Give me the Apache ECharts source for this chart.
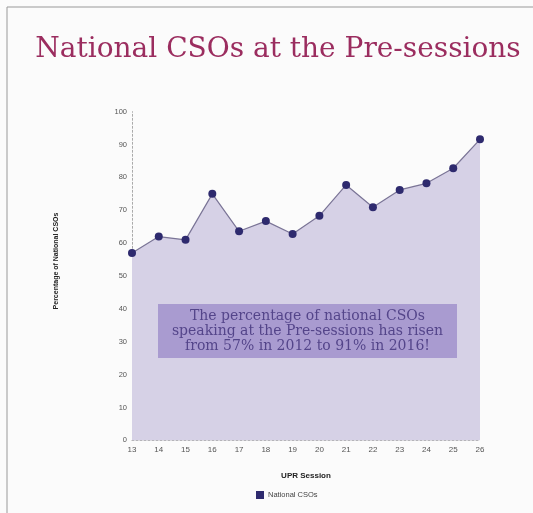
<!DOCTYPE html>
<html><head><meta charset="utf-8">
<script src="https://cdn.jsdelivr.net/npm/echarts@6/dist/echarts.min.js"></script>
<style>html,body{margin:0;padding:0;background:#fff;}#c{width:533px;height:513px;}</style>
</head><body><div id="c"></div>
<script>
var sessions = ['13','14','15','16','17','18','19','20','21','22','23','24','25','26'];
var nationalCSOs = [57, 62, 61, 75, 63.6, 66.7, 62.8, 68.3, 77.7, 70.9, 76.2, 78.2, 82.8, 91.6];
var yTicks = {min: 0, max: 100, interval: 10};
var titleText = 'National CSOs at the Pre-sessions';
var yAxisTitle = 'Percentage of National CSOs';
var noteLines = ['The percentage of national CSOs', 'speaking at the Pre-sessions has risen', 'from 57% in 2012 to 91% in 2016!'];

var chart = echarts.init(document.getElementById('c'));
chart.setOption({
  backgroundColor: '#fbfbfb',
  animation: false,
  title: {
    text: titleText, left: 273, textAlign: 'center', top: 31,
    textStyle: {fontFamily: 'DejaVu Serif', fontSize: 28, fontWeight: 'normal', color: '#9b2d5f'}
  },
  grid: {left: 132, right: 53, top: 111.7, bottom: 72.7},
  legend: {
    bottom: 9, left: 251, itemWidth: 8, itemHeight: 8, icon: 'rect', itemGap: 4,
    textStyle: {fontSize: 7.5, color: '#444', fontFamily: 'Liberation Sans', padding: [0, 0, 0, -1]},
    data: [{name: 'National CSOs', itemStyle: {color: '#2e2a6e'}}]
  },
  xAxis: {
    type: 'category', data: sessions, boundaryGap: false,
    name: 'UPR Session', nameLocation: 'middle', nameGap: 31,
    nameTextStyle: {fontSize: 8, fontWeight: 'bold', color: '#222', fontFamily: 'Liberation Sans'},
    axisLine: {lineStyle: {color: '#aaa', type: [2, 2], width: 1}},
    axisTick: {show: false},
    axisLabel: {fontSize: 8, color: '#555', margin: 5, fontFamily: 'Liberation Sans'},
    splitLine: {show: false}
  },
  yAxis: {
    type: 'value', min: yTicks.min, max: yTicks.max, interval: yTicks.interval,
    axisLine: {show: true, lineStyle: {color: '#aaa', type: [2, 2], width: 1}},
    axisTick: {show: false},
    axisLabel: {fontSize: 7.5, color: '#555', margin: 5, fontFamily: 'Liberation Sans'},
    splitLine: {show: false}
  },
  series: [{
    name: 'National CSOs', type: 'line', data: nationalCSOs,
    symbol: 'circle', symbolSize: 8,
    lineStyle: {color: '#7a7496', width: 1.2},
    itemStyle: {color: '#2e2a6e'},
    areaStyle: {color: '#d6d1e6', opacity: 1}
  }],
  graphic: [
    {type: 'line', shape: {x1: 7, y1: 7, x2: 533, y2: 7}, style: {stroke: '#999', lineWidth: 1}},
    {type: 'line', shape: {x1: 7, y1: 7, x2: 7, y2: 513}, style: {stroke: '#999', lineWidth: 1}},
    {type: 'text', x: 56, y: 261, rotation: Math.PI / 2, style: {
      text: yAxisTitle, align: 'center', verticalAlign: 'middle',
      fontFamily: 'Liberation Sans', fontSize: 7, fontWeight: 'bold', fill: '#222'
    }},
    {type: 'rect', shape: {x: 158, y: 304, width: 299, height: 54}, style: {fill: '#a99bd0'}, z: 10},
    {type: 'text', x: 307.5, y: 331, z: 11, style: {
      text: noteLines.join('\n'), align: 'center', verticalAlign: 'middle',
      fontFamily: 'DejaVu Serif', fontSize: 14, lineHeight: 15, fill: '#54458a'
    }}
  ]
});
</script></body></html>
